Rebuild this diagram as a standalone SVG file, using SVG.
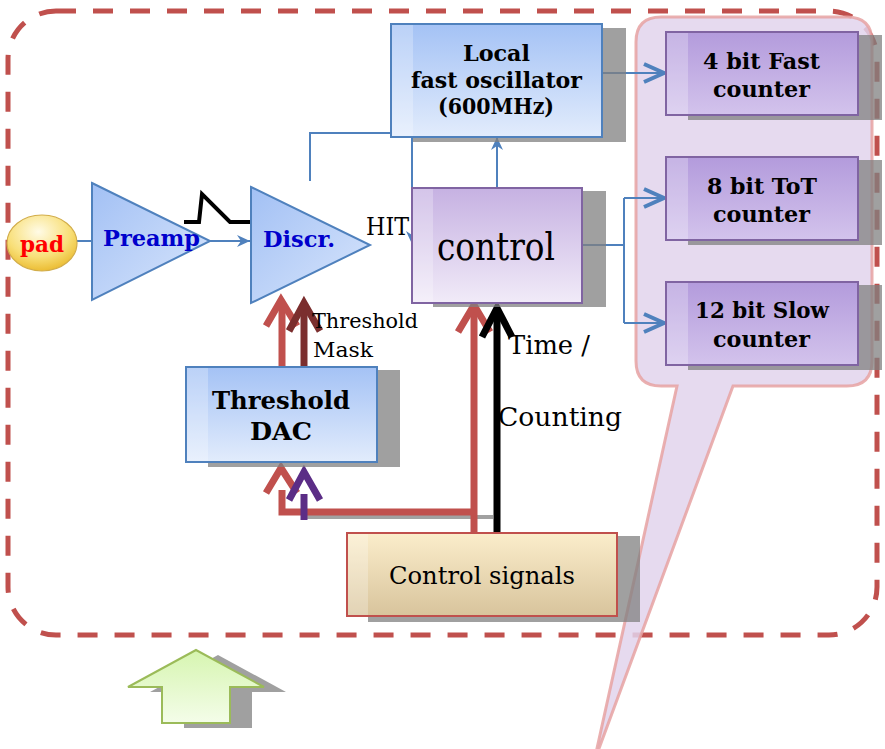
<svg xmlns="http://www.w3.org/2000/svg" width="885" height="749" viewBox="0 0 885 749">
<style>
.shadow{fill:#808080;opacity:0.75}
.bold{font-family:"DejaVu Serif","Liberation Serif",serif;font-weight:bold;fill:#000}
.reg{font-family:"DejaVu Serif","Liberation Serif",serif;fill:#000}
.blue{stroke:#4f81bd;stroke-width:2;fill:none}
.chev{stroke:#4f81bd;stroke-width:4;fill:none}
.red{stroke:#c0504d;stroke-width:7;fill:none}
.dred{stroke:#7b2e2e;stroke-width:7;fill:none}
.purp{stroke:#5b2d86;stroke-width:7;fill:none}
.blk{stroke:#000;stroke-width:7;fill:none}
.strip{fill:#fff;opacity:0.25}
</style>
<defs>
<linearGradient id="gBlue" x1="0" y1="0" x2="0" y2="1"><stop offset="0" stop-color="#a4c2f5"/><stop offset="1" stop-color="#e2ecfc"/></linearGradient>
<linearGradient id="gTri" x1="0" y1="0" x2="1" y2="1"><stop offset="0" stop-color="#a2c0f4"/><stop offset="1" stop-color="#d9e6fc"/></linearGradient>
<linearGradient id="gPur" x1="0" y1="0" x2="0" y2="1"><stop offset="0" stop-color="#b39bdc"/><stop offset="1" stop-color="#d3c3ec"/></linearGradient>
<linearGradient id="gCtl" x1="0" y1="0" x2="0" y2="1"><stop offset="0" stop-color="#c6b1e2"/><stop offset="1" stop-color="#f1ebf8"/></linearGradient>
<linearGradient id="gTan" x1="0" y1="0" x2="0" y2="1"><stop offset="0" stop-color="#fbedcb"/><stop offset="1" stop-color="#d8c49c"/></linearGradient>
<linearGradient id="gGrn" x1="0" y1="0" x2="0" y2="1"><stop offset="0" stop-color="#d6f5b0"/><stop offset="1" stop-color="#f4fde9"/></linearGradient>
<radialGradient id="gPad" cx="0.45" cy="0.3" r="0.75"><stop offset="0" stop-color="#fffbe6"/><stop offset="0.6" stop-color="#f8df78"/><stop offset="1" stop-color="#e9b626"/></radialGradient>
<marker id="ah" markerUnits="userSpaceOnUse" markerWidth="14" markerHeight="12" refX="13" refY="6" orient="auto"><path d="M0,0 L13,6 L0,12 L4,6 Z" fill="#4f81bd"/></marker>
</defs>

<!-- outer dashed boundary -->
<rect x="8" y="11" width="869" height="624" rx="48" ry="48" fill="none" stroke="#c0504d" stroke-width="5" stroke-dasharray="20 17"/>

<!-- callout -->
<g id="callout">
<path d="M661,17 H847 Q872,17 872,42 V361 Q872,386 847,386 H733 L594,762 L677,386 H661 Q636,386 636,361 V42 Q636,17 661,17 Z" fill="#e2d3ec" fill-opacity="0.85" stroke="#e6a2a2" stroke-width="3" stroke-opacity="0.85"/>
</g>

<!-- connectors -->
<g id="connectors">
<line class="blue" x1="77" y1="241" x2="93" y2="241"/>
<line class="blue" x1="210" y1="241" x2="250" y2="241" marker-end="url(#ah)"/>
<path class="blue" d="M310,181 V133 H412 V244" marker-end="url(#ah)"/>
<path class="blue" d="M497,188 V137" marker-end="url(#ah)"/>
<path class="blue" d="M602,73 H664"/>
<polyline class="chev" points="644,64 664,73 644,82"/>
<path class="blue" d="M582,245 H624 M624,198 V323 M624,198 H664 M624,323 H664"/>
<polyline class="chev" points="644,189 664,198 644,207"/>
<polyline class="chev" points="644,314 664,323 644,332"/>
<polyline points="184,222 199,222 202,194 230,222 251,222" fill="none" stroke="#000" stroke-width="4"/>
<line x1="307" y1="517" x2="493" y2="517" stroke="#8a8a8a" stroke-width="4" opacity="0.8"/>
<line class="red" x1="282" y1="367" x2="282" y2="304"/>
<polyline class="red" points="266,326 281,300 297,326"/>
<line class="dred" x1="304" y1="367" x2="304" y2="306"/>
<polyline class="dred" points="289,331 304,303 320,331"/>
<path class="red" d="M282,490 V512 H474 V533 M474,512 V308"/>
<polyline class="red" points="266,493 281,468 297,493"/>
<polyline class="red" points="458,332 474,305 490,332"/>
<line class="purp" x1="304" y1="494" x2="304" y2="520"/>
<polyline class="purp" points="289,500 304,472 320,500"/>
<line class="blk" x1="497" y1="533" x2="497" y2="310"/>
<polyline class="blk" points="482,337 497,308 512,337"/>
</g>

<!-- pad -->
<g id="pad">
<ellipse cx="42" cy="243" rx="35" ry="28" fill="url(#gPad)" stroke="#d2ad4a" stroke-width="1.2"/>
<text class="bold" x="20" y="252" font-size="22" style="fill:#ff0000" textLength="44" lengthAdjust="spacingAndGlyphs">pad</text>
</g>

<!-- preamp -->
<g id="preamp">
<polygon points="92,183 210,241 92,300" fill="url(#gTri)" stroke="#4f81bd" stroke-width="2"/>
<text class="bold" x="103" y="246" font-size="23" style="fill:#0000cc" textLength="97" lengthAdjust="spacingAndGlyphs">Preamp</text>
</g>

<!-- discr -->
<g id="discr">
<polygon points="251,187 370,245 251,303" fill="url(#gTri)" stroke="#4f81bd" stroke-width="2"/>
<text class="bold" x="263" y="247" font-size="23" style="fill:#0000cc" textLength="72" lengthAdjust="spacingAndGlyphs">Discr.</text>
</g>

<text class="reg" x="366" y="235" font-size="24" textLength="43" lengthAdjust="spacingAndGlyphs">HIT</text>

<!-- oscillator -->
<g id="oscillator">
<rect class="shadow" x="413" y="28" width="213" height="114"/>
<rect x="391" y="24" width="211" height="113" fill="url(#gBlue)" stroke="#4f81bd" stroke-width="2"/>
<rect class="strip" x="392" y="25" width="21" height="111"/>
<text class="bold" x="463" y="61" font-size="23" textLength="67" lengthAdjust="spacingAndGlyphs">Local</text>
<text class="bold" x="411" y="88" font-size="23" textLength="171" lengthAdjust="spacingAndGlyphs">fast oscillator</text>
<text class="bold" x="438" y="114" font-size="23" textLength="116" lengthAdjust="spacingAndGlyphs">(600MHz)</text>
</g>

<!-- control -->
<g id="control">
<rect class="shadow" x="433" y="191" width="173" height="116"/>
<rect x="412" y="188" width="170" height="115" fill="url(#gCtl)" stroke="#8064a2" stroke-width="2"/>
<rect class="strip" x="413" y="189" width="20" height="113"/>
<text class="reg" x="437" y="260" font-size="39" textLength="118" lengthAdjust="spacingAndGlyphs">control</text>
</g>

<!-- counters -->
<g id="counter4">
<rect class="shadow" x="688" y="35" width="194" height="85"/>
<rect x="666" y="32" width="192" height="83" fill="url(#gPur)" stroke="#8064a2" stroke-width="2"/>
<rect class="strip" x="667" y="33" width="21" height="81"/>
<text class="bold" x="703" y="69" font-size="22" textLength="117" lengthAdjust="spacingAndGlyphs">4 bit Fast</text>
<text class="bold" x="713" y="97" font-size="22" textLength="97" lengthAdjust="spacingAndGlyphs">counter</text>
</g>
<g id="counter8">
<rect class="shadow" x="688" y="160" width="194" height="85"/>
<rect x="666" y="157" width="192" height="83" fill="url(#gPur)" stroke="#8064a2" stroke-width="2"/>
<rect class="strip" x="667" y="158" width="21" height="81"/>
<text class="bold" x="707" y="194" font-size="22" textLength="110" lengthAdjust="spacingAndGlyphs">8 bit ToT</text>
<text class="bold" x="713" y="222" font-size="22" textLength="97" lengthAdjust="spacingAndGlyphs">counter</text>
</g>
<g id="counter12">
<rect class="shadow" x="688" y="285" width="194" height="85"/>
<rect x="666" y="282" width="192" height="83" fill="url(#gPur)" stroke="#8064a2" stroke-width="2"/>
<rect class="strip" x="667" y="283" width="21" height="81"/>
<text class="bold" x="695" y="318" font-size="22" textLength="134" lengthAdjust="spacingAndGlyphs">12 bit Slow</text>
<text class="bold" x="713" y="347" font-size="22" textLength="97" lengthAdjust="spacingAndGlyphs">counter</text>
</g>

<!-- threshold DAC -->
<g id="dac">
<rect class="shadow" x="208" y="370" width="192" height="97"/>
<rect x="186" y="367" width="191" height="95" fill="url(#gBlue)" stroke="#4f81bd" stroke-width="2"/>
<rect class="strip" x="187" y="368" width="21" height="93"/>
<text class="bold" x="212" y="409" font-size="25" textLength="138" lengthAdjust="spacingAndGlyphs">Threshold</text>
<text class="bold" x="250" y="440" font-size="25" textLength="62" lengthAdjust="spacingAndGlyphs">DAC</text>
</g>

<text class="reg" x="312" y="328" font-size="21" textLength="106" lengthAdjust="spacingAndGlyphs">Threshold</text>
<text class="reg" x="313" y="357" font-size="21" textLength="60" lengthAdjust="spacingAndGlyphs">Mask</text>
<text class="reg" x="508" y="354" font-size="26" textLength="82" lengthAdjust="spacingAndGlyphs">Time /</text>
<text class="reg" x="498" y="426" font-size="26" textLength="124" lengthAdjust="spacingAndGlyphs">Counting</text>

<!-- control signals -->
<g id="controlsignals">
<rect class="shadow" x="368" y="536" width="272" height="86"/>
<rect x="347" y="533" width="270" height="83" fill="url(#gTan)" stroke="#c0504d" stroke-width="2"/>
<rect class="strip" x="348" y="534" width="20" height="81"/>
<text class="reg" x="389" y="584" font-size="25" textLength="186" lengthAdjust="spacingAndGlyphs">Control signals</text>
</g>

<!-- green arrow -->
<g id="greenarrow">
<path class="shadow" d="M218,655 L286,692 H252 V728 H184 V692 H150 Z"/>
<path d="M196,650 L128,687 H162 V723 H230 V687 H264 Z" fill="url(#gGrn)" stroke="#9bbb59" stroke-width="2"/>
</g>
</svg>
